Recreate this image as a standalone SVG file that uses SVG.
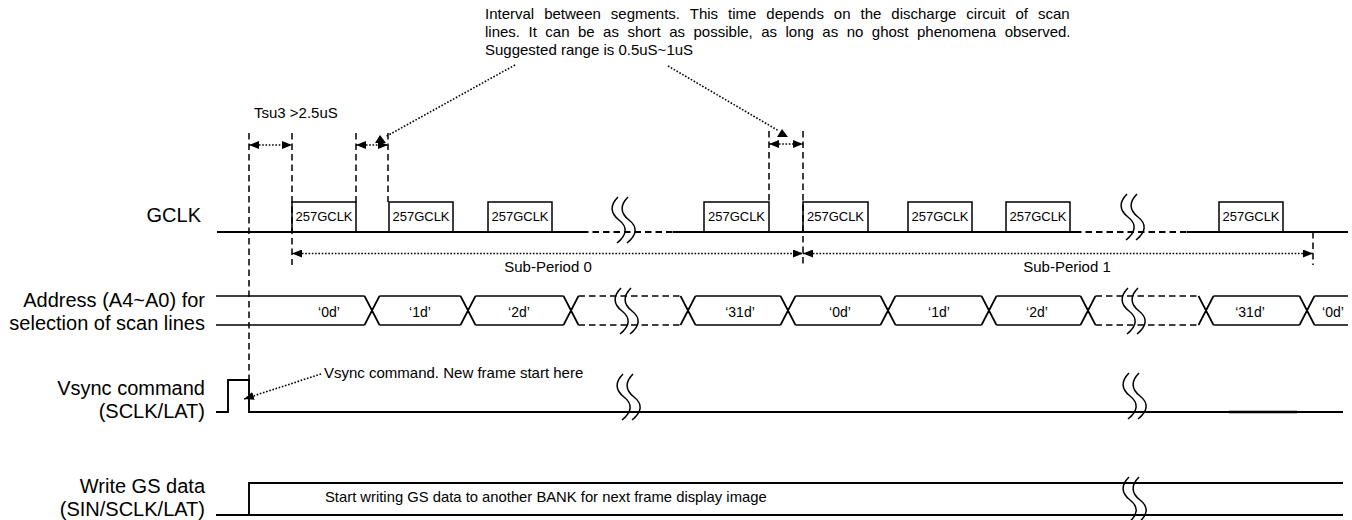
<svg xmlns="http://www.w3.org/2000/svg" width="1352" height="520" viewBox="0 0 1352 520">
<defs>
<style>
 .w{stroke:#000;stroke-width:1.5;fill:none}
 .b{stroke:#000;stroke-width:1.9;fill:none}
 .a{stroke:#000;stroke-width:1.7;fill:none}
 .ds{stroke-dasharray:6.5 4}
 .dt{stroke:#000;stroke-width:1.6;stroke-dasharray:1.6 1.7;fill:none}
 text{font-family:"Liberation Sans",Arial,Helvetica,sans-serif;fill:#000}
 .lbl{font-size:20px;text-anchor:end}
 .note{font-size:15px}
 .clk{font-size:13px;text-anchor:middle}
 .val{font-size:14px;text-anchor:middle}
</style>
<marker id="ah" viewBox="0 0 10 8" refX="10" refY="4" markerWidth="10" markerHeight="8" markerUnits="userSpaceOnUse" orient="auto-start-reverse"><path d="M0,0L10,4L0,8z" fill="#000"/></marker>
<!-- time-break mark: two stacked S curves -->
<g id="brk"><path class="w" d="M6,0C-2,8 -2,16 7,23C16,30 15,38 5,46"/><path class="w" d="M16,0C8,8 8,16 17,23C26,30 25,38 15,46"/></g>
</defs>
<rect width="1352" height="520" fill="#fff"/>

<!-- signal names -->
<g id="labels">
 <text class="lbl" x="201" y="222">GCLK</text>
 <text class="lbl" x="205" y="307">Address (A4~A0) for</text>
 <text class="lbl" x="205" y="330">selection of scan lines</text>
 <text class="lbl" x="205" y="395">Vsync command</text>
 <text class="lbl" x="205" y="418">(SCLK/LAT)</text>
 <text class="lbl" x="205" y="493">Write GS data</text>
 <text class="lbl" x="205" y="516">(SIN/SCLK/LAT)</text>
</g>

<!-- annotation at the top -->
<g id="interval-note">
 <text class="note" x="485" y="19" word-spacing="5.8">Interval between segments. This time depends on the discharge circuit of scan</text>
 <text class="note" x="485" y="37" word-spacing="4.3">lines. It can be as short as possible, as long as no ghost phenomena observed.</text>
 <text class="note" x="485" y="55">Suggested range is 0.5uS~1uS</text>
</g>

<!-- GCLK row -->
<g id="gclk">
 <path class="b" d="M217,232H582M673,232H1075M1187,232H1348"/>
 <path class="b ds" d="M582,232H673M1075,232H1187"/>
 <rect class="w" x="292" y="202" width="64" height="30"/>
 <rect class="w" x="389" y="202" width="64" height="30"/>
 <rect class="w" x="488" y="202" width="64" height="30"/>
 <rect class="w" x="704" y="202" width="65" height="30"/>
 <rect class="w" x="803" y="202" width="65" height="30"/>
 <rect class="w" x="908" y="202" width="64" height="30"/>
 <rect class="w" x="1006" y="202" width="64" height="30"/>
 <rect class="w" x="1219" y="202" width="64" height="30"/>
 <text class="clk" x="324" y="221">257GCLK</text>
 <text class="clk" x="421" y="221">257GCLK</text>
 <text class="clk" x="520" y="221">257GCLK</text>
 <text class="clk" x="736.5" y="221">257GCLK</text>
 <text class="clk" x="835.5" y="221">257GCLK</text>
 <text class="clk" x="940" y="221">257GCLK</text>
 <text class="clk" x="1038" y="221">257GCLK</text>
 <text class="clk" x="1251" y="221">257GCLK</text>
 <use href="#brk" x="612" y="197"/>
 <use href="#brk" x="1121" y="194"/>
</g>

<!-- scan line address bus -->
<g id="address">
 <path class="a" d="M216,296H364.5M379.5,296H460.5M475.5,296H563.5M695.5,296H780.5M795.5,296H880.5M895.5,296H981.5M996.5,296H1080.5M1213.5,296H1299.5M1314.5,296H1348
 M216,325H364.5M379.5,325H460.5M475.5,325H563.5M695.5,325H780.5M795.5,325H880.5M895.5,325H981.5M996.5,325H1080.5M1213.5,325H1299.5M1314.5,325H1348"/>
 <path class="a ds" d="M578.5,296H680.5M578.5,325H680.5M1095.5,296H1198.5M1095.5,325H1198.5"/>
 <path class="a" d="M364.5,296L379.5,325M364.5,325L379.5,296M460.5,296L475.5,325M460.5,325L475.5,296M563.5,296L578.5,325M563.5,325L578.5,296M680.5,296L695.5,325M680.5,325L695.5,296M780.5,296L795.5,325M780.5,325L795.5,296M880.5,296L895.5,325M880.5,325L895.5,296M981.5,296L996.5,325M981.5,325L996.5,296M1080.5,296L1095.5,325M1080.5,325L1095.5,296M1198.5,296L1213.5,325M1198.5,325L1213.5,296M1299.5,296L1314.5,325M1299.5,325L1314.5,296"/>
 <text class="val" x="329" y="317">‘0d’</text>
 <text class="val" x="420" y="317">‘1d’</text>
 <text class="val" x="519" y="317">‘2d’</text>
 <text class="val" x="740" y="317">‘31d’</text>
 <text class="val" x="840" y="317">‘0d’</text>
 <text class="val" x="939" y="317">‘1d’</text>
 <text class="val" x="1037" y="317">‘2d’</text>
 <text class="val" x="1250" y="317">‘31d’</text>
 <text class="val" x="1333" y="317">‘0d’</text>
 <use href="#brk" x="615" y="288"/>
 <use href="#brk" x="1122" y="288"/>
</g>

<!-- Vsync command row -->
<g id="vsync">
 <path class="b" d="M216,412H228V380H249V412H1343"/>
 <path stroke="#000" stroke-width="2.4" d="M1229,412H1297"/>
 <text class="note" x="324" y="378">Vsync command. New frame start here</text>
 <use href="#brk" x="617" y="374"/>
 <use href="#brk" x="1123" y="373"/>
</g>

<!-- GS data write row -->
<g id="gsdata">
 <path class="b" d="M216,515H1343M249,515V483H1343"/>
 <text class="note" x="325" y="502" style="font-size:14.8px">Start writing GS data to another BANK for next frame display image</text>
 <use href="#brk" x="1123" y="477"/>
</g>

<!-- timing guides, spans and callouts -->
<g id="connectors">
 <path class="w ds" d="M249,133V380M292,133V265M356,133V202M388,133V202M769,131V202M803,131V265M1313,232V265"/>
 <path class="dt" d="M249,145H292" marker-start="url(#ah)" marker-end="url(#ah)"/>
 <path class="dt" d="M356,145H388" marker-start="url(#ah)" marker-end="url(#ah)"/>
 <path class="dt" d="M769,144H803" marker-start="url(#ah)" marker-end="url(#ah)"/>
 <path class="dt" d="M292,253.5H803" marker-start="url(#ah)" marker-end="url(#ah)"/>
 <path class="dt" d="M803,253.5H1313" marker-start="url(#ah)" marker-end="url(#ah)"/>
 <path class="dt" d="M515,65L385,137"/>
 <polygon points="380,135 375,143 386,143" fill="#000"/>
 <path class="dt" d="M668,66L779,131"/>
 <polygon points="782,129 777,137 788,137" fill="#000"/>
 <path class="dt" d="M321,374L244,399" marker-end="url(#ah)"/>
 <text class="note" x="254" y="118">Tsu3 &gt;2.5uS</text>
 <text class="note" x="548" y="272" text-anchor="middle">Sub-Period 0</text>
 <text class="note" x="1067" y="272" text-anchor="middle">Sub-Period 1</text>
</g>
</svg>
